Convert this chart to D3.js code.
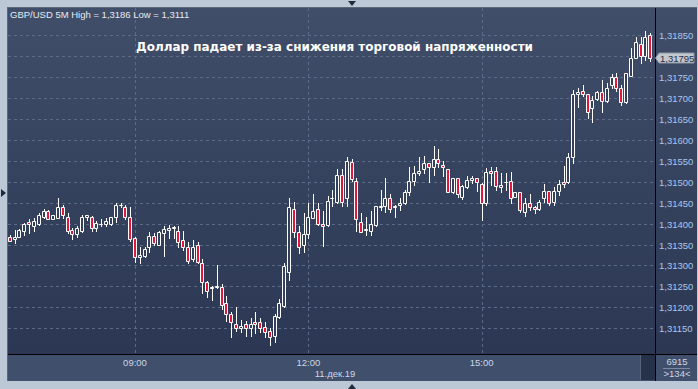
<!DOCTYPE html>
<html>
<head>
<meta charset="utf-8">
<script src="https://cdn.jsdelivr.net/npm/d3@7"></script>
<style>
  html, body { margin: 0; padding: 0; background: #bdc8d7; overflow: hidden; }
</style>
</head>
<body>
<div id="chart"></div>
<script>
// GBP/USD, 5 minute bars, 11 Dec 2019 from 06:50
const startTime = "2019-12-11 06:50";
const stepMinutes = 5;

const open = [
  1.31369, 1.31364, 1.31369, 1.31383, 1.31404, 1.31393, 1.31398, 1.31415, 1.31430, 1.31410,
  1.31414, 1.31439, 1.31415, 1.31385, 1.31374, 1.31383, 1.31415, 1.31415, 1.31389, 1.31398,
  1.31398, 1.31398, 1.31415, 1.31444, 1.31439, 1.31415, 1.31365, 1.31319, 1.31323, 1.31343,
  1.31370, 1.31349, 1.31378, 1.31385, 1.31390, 1.31383, 1.31361, 1.31343, 1.31315, 1.31349,
  1.31305, 1.31260, 1.31247, 1.31249, 1.31249, 1.31210, 1.31183, 1.31160, 1.31150, 1.31160,
  1.31150, 1.31164, 1.31164, 1.31154, 1.31144, 1.31132, 1.31178, 1.31204, 1.31284, 1.31434,
  1.31379, 1.31349, 1.31374, 1.31414, 1.31434, 1.31398, 1.31397, 1.31460, 1.31452, 1.31516,
  1.31460, 1.31548, 1.31502, 1.31404, 1.31385, 1.31383, 1.31397, 1.31439, 1.31443, 1.31460,
  1.31440, 1.31444, 1.31448, 1.31475, 1.31502, 1.31520, 1.31530, 1.31544, 1.31534, 1.31553,
  1.31540, 1.31530, 1.31475, 1.31508, 1.31464, 1.31488, 1.31504, 1.31508, 1.31494, 1.31448,
  1.31525, 1.31525, 1.31488, 1.31499, 1.31502, 1.31464, 1.31475, 1.31428, 1.31448, 1.31439,
  1.31434, 1.31460, 1.31478, 1.31452, 1.31478, 1.31499, 1.31499, 1.31558, 1.31709, 1.31717,
  1.31709, 1.31675, 1.31697, 1.31713, 1.31693, 1.31731, 1.31749, 1.31723, 1.31690, 1.31753,
  1.31795, 1.31829, 1.31800, 1.31850
];
const high = [
  1.31372, 1.31385, 1.31386, 1.31402, 1.31410, 1.31413, 1.31425, 1.31435, 1.31432, 1.31420,
  1.31462, 1.31444, 1.31425, 1.31389, 1.31393, 1.31420, 1.31420, 1.31418, 1.31407, 1.31410,
  1.31413, 1.31416, 1.31448, 1.31448, 1.31444, 1.31440, 1.31369, 1.31343, 1.31345, 1.31381,
  1.31377, 1.31382, 1.31393, 1.31397, 1.31394, 1.31394, 1.31383, 1.31357, 1.31361, 1.31357,
  1.31315, 1.31263, 1.31251, 1.31301, 1.31255, 1.31228, 1.31190, 1.31200, 1.31170, 1.31168,
  1.31174, 1.31188, 1.31174, 1.31166, 1.31150, 1.31184, 1.31220, 1.31305, 1.31460, 1.31452,
  1.31394, 1.31425, 1.31448, 1.31471, 1.31448, 1.31431, 1.31466, 1.31480, 1.31530, 1.31530,
  1.31558, 1.31553, 1.31508, 1.31425, 1.31415, 1.31431, 1.31443, 1.31480, 1.31508, 1.31471,
  1.31444, 1.31460, 1.31480, 1.31534, 1.31537, 1.31558, 1.31561, 1.31544, 1.31585, 1.31577,
  1.31549, 1.31530, 1.31508, 1.31509, 1.31492, 1.31514, 1.31514, 1.31508, 1.31496, 1.31532,
  1.31536, 1.31536, 1.31520, 1.31520, 1.31524, 1.31475, 1.31475, 1.31460, 1.31471, 1.31442,
  1.31456, 1.31494, 1.31478, 1.31487, 1.31504, 1.31538, 1.31569, 1.31719, 1.31723, 1.31731,
  1.31709, 1.31705, 1.31717, 1.31743, 1.31735, 1.31757, 1.31759, 1.31731, 1.31759, 1.31818,
  1.31846, 1.31846, 1.31860, 1.31854
];
const low = [
  1.31359, 1.31354, 1.31369, 1.31373, 1.31378, 1.31383, 1.31397, 1.31414, 1.31410, 1.31410,
  1.31414, 1.31414, 1.31378, 1.31364, 1.31369, 1.31381, 1.31409, 1.31383, 1.31383, 1.31393,
  1.31393, 1.31397, 1.31404, 1.31439, 1.31410, 1.31359, 1.31309, 1.31305, 1.31319, 1.31333,
  1.31349, 1.31349, 1.31323, 1.31365, 1.31365, 1.31345, 1.31337, 1.31305, 1.31311, 1.31305,
  1.31234, 1.31224, 1.31218, 1.31246, 1.31195, 1.31168, 1.31129, 1.31144, 1.31140, 1.31132,
  1.31132, 1.31138, 1.31140, 1.31129, 1.31110, 1.31118, 1.31174, 1.31200, 1.31265, 1.31369,
  1.31329, 1.31333, 1.31365, 1.31414, 1.31397, 1.31347, 1.31393, 1.31442, 1.31450, 1.31442,
  1.31442, 1.31502, 1.31382, 1.31379, 1.31373, 1.31373, 1.31393, 1.31432, 1.31428, 1.31428,
  1.31415, 1.31432, 1.31447, 1.31468, 1.31492, 1.31516, 1.31521, 1.31498, 1.31516, 1.31534,
  1.31514, 1.31475, 1.31472, 1.31464, 1.31459, 1.31484, 1.31496, 1.31478, 1.31409, 1.31444,
  1.31492, 1.31480, 1.31476, 1.31480, 1.31448, 1.31464, 1.31428, 1.31418, 1.31432, 1.31425,
  1.31432, 1.31452, 1.31444, 1.31444, 1.31468, 1.31488, 1.31496, 1.31544, 1.31679, 1.31705,
  1.31653, 1.31643, 1.31695, 1.31667, 1.31691, 1.31723, 1.31717, 1.31683, 1.31687, 1.31753,
  1.31795, 1.31783, 1.31790, 1.31789
];
const close = [
  1.31359, 1.31369, 1.31385, 1.31398, 1.31398, 1.31406, 1.31420, 1.31430, 1.31410, 1.31420,
  1.31439, 1.31420, 1.31383, 1.31374, 1.31389, 1.31416, 1.31420, 1.31389, 1.31401, 1.31400,
  1.31406, 1.31415, 1.31444, 1.31445, 1.31415, 1.31362, 1.31319, 1.31325, 1.31339, 1.31370,
  1.31354, 1.31381, 1.31386, 1.31390, 1.31391, 1.31355, 1.31343, 1.31311, 1.31343, 1.31309,
  1.31260, 1.31239, 1.31248, 1.31250, 1.31206, 1.31184, 1.31164, 1.31150, 1.31155, 1.31150,
  1.31160, 1.31160, 1.31150, 1.31140, 1.31129, 1.31179, 1.31210, 1.31299, 1.31439, 1.31379,
  1.31343, 1.31374, 1.31416, 1.31430, 1.31398, 1.31393, 1.31454, 1.31461, 1.31516, 1.31452,
  1.31549, 1.31506, 1.31410, 1.31379, 1.31386, 1.31398, 1.31443, 1.31443, 1.31460, 1.31434,
  1.31441, 1.31448, 1.31475, 1.31502, 1.31521, 1.31525, 1.31544, 1.31534, 1.31553, 1.31544,
  1.31534, 1.31475, 1.31508, 1.31470, 1.31490, 1.31504, 1.31508, 1.31498, 1.31448, 1.31524,
  1.31520, 1.31490, 1.31492, 1.31500, 1.31460, 1.31475, 1.31432, 1.31448, 1.31439, 1.31434,
  1.31452, 1.31478, 1.31448, 1.31478, 1.31494, 1.31494, 1.31558, 1.31709, 1.31713, 1.31709,
  1.31667, 1.31695, 1.31713, 1.31693, 1.31723, 1.31749, 1.31723, 1.31690, 1.31759, 1.31795,
  1.31834, 1.31800, 1.31845, 1.31795
];

const priceTicks = [1.3115, 1.3120, 1.3125, 1.3130, 1.3135, 1.3140, 1.3145, 1.3150,
                    1.3155, 1.3160, 1.3165, 1.3170, 1.3175, 1.3180, 1.3185];
const timeTicks = ["09:00", "12:00", "15:00"];
const lastPrice = 1.31795;
const titleText = "GBP/USD 5M High = 1,3186 Low = 1,3111";
const headline = "Доллар падает из-за снижения торговой напряженности";
const dateLabel = "11.дек.19";
const barInfo = ["6915", ">134<"];

// sizes
const W = 698, H = 389;
const panel = {left: 8, top: 8, right: 697, bottom: 381};
const plotRight = 655, plotBottom = 354;
const font = "'Liberation Sans', Arial, sans-serif";

const parse = d3.timeParse("%Y-%m-%d %H:%M");
const t0 = parse(startTime);
const times = open.map((d, i) => d3.timeMinute.offset(t0, i * stepMinutes));
const bars = open.map((d, i) => ({t: times[i], o: d, h: high[i], l: low[i], c: close[i]}));

const x = d3.scaleTime()
    .domain([t0, times[times.length - 1]])
    .range([9.8, 9.8 + (times.length - 1) * 4.815]);

const y = d3.scaleLinear()
    .domain([1.3115, 1.3185])
    .range([328.3, 35]);

const fmt = v => v.toFixed(5).replace(".", ",");
const px = v => Math.round(v) + 0.5;

const svg = d3.select("#chart")
  .append("svg")
    .attr("width", W)
    .attr("height", H)
    .style("display", "block");

const defs = svg.append("defs");
const grad = defs.append("linearGradient")
    .attr("id", "bg").attr("x1", 0).attr("y1", 0).attr("x2", 0).attr("y2", 1);
grad.append("stop").attr("offset", "0%").attr("stop-color", "#404e6a");
grad.append("stop").attr("offset", "100%").attr("stop-color", "#2b3753");

defs.append("clipPath").attr("id", "plotclip")
  .append("rect")
    .attr("x", panel.left).attr("y", panel.top)
    .attr("width", plotRight - panel.left).attr("height", plotBottom - panel.top);

// frame
svg.append("rect").attr("width", W).attr("height", H).attr("fill", "#bdc8d7");
svg.append("rect")
    .attr("x", panel.left - 1).attr("y", panel.top - 1)
    .attr("width", panel.right - panel.left + 1).attr("height", panel.bottom - panel.top + 1)
    .attr("fill", "#5d687b");
svg.append("rect")
    .attr("x", panel.left).attr("y", panel.top)
    .attr("width", panel.right - panel.left).attr("height", plotBottom - panel.top)
    .attr("fill", "url(#bg)");
svg.append("rect")
    .attr("x", panel.left).attr("y", plotBottom)
    .attr("width", panel.right - panel.left).attr("height", panel.bottom - plotBottom)
    .attr("fill", "#404f6b");
// little scroll block at bottom right of the time axis
svg.append("rect")
    .attr("x", 640).attr("y", plotBottom + 1).attr("width", 1).attr("height", 25)
    .attr("fill", "#56637a");
svg.append("rect")
    .attr("x", 641).attr("y", plotBottom + 1).attr("width", plotRight - 641).attr("height", 25)
    .attr("fill", "#26324a");

// grid
const grid = svg.append("g")
    .attr("stroke", "#5b6a86")
    .attr("stroke-dasharray", "3,3")
    .attr("stroke-width", 1);

grid.selectAll("line.h")
  .data(priceTicks)
  .join("line")
    .attr("class", "h")
    .attr("x1", panel.left).attr("x2", plotRight)
    .attr("y1", d => px(y(d))).attr("y2", d => px(y(d)));

const tickTimes = timeTicks.map(s => parse("2019-12-11 " + s));
grid.selectAll("line.v")
  .data(tickTimes)
  .join("line")
    .attr("class", "v")
    .attr("x1", d => px(x(d))).attr("x2", d => px(x(d)))
    .attr("y1", panel.top).attr("y2", plotBottom);

// candles
const candles = svg.append("g")
    .attr("clip-path", "url(#plotclip)")
  .selectAll("g")
  .data(bars)
  .join("g");

candles.append("line")
    .attr("x1", d => px(x(d.t)))
    .attr("x2", d => px(x(d.t)))
    .attr("y1", d => Math.round(y(d.h)))
    .attr("y2", d => Math.round(y(d.l)) + 1)
    .attr("stroke", "#ffffff");

candles.append("path")
    .attr("d", d => {
      const cx = px(x(d.t));
      const y0 = px(y(Math.max(d.o, d.c)));
      const y1 = px(y(Math.min(d.o, d.c)));
      return `M${cx - 2},${y0}H${cx + 1}V${y1}H${cx - 2}Z`;
    })
    .attr("fill", d => d.c < d.o ? "#e3163c" : "#34405c")
    .attr("stroke", "#ffffff")
    .attr("stroke-width", 1);

// separators
svg.append("line")
    .attr("x1", plotRight + 0.5).attr("x2", plotRight + 0.5)
    .attr("y1", panel.top).attr("y2", panel.bottom)
    .attr("stroke", "#000");
svg.append("line")
    .attr("x1", panel.left).attr("x2", panel.right)
    .attr("y1", plotBottom + 0.5).attr("y2", plotBottom + 0.5)
    .attr("stroke", "#000");

// price axis labels (the one hidden behind the current price marker is skipped)
svg.append("g")
  .selectAll("text")
  .data(priceTicks.filter(d => Math.abs(y(d) - y(lastPrice)) > 10))
  .join("text")
    .attr("x", 659)
    .attr("y", d => y(d) + 4)
    .attr("font-family", font)
    .attr("font-size", "9.5px")
    .attr("fill", "#a9c6ee")
    .text(fmt);

// current price marker
const lp = svg.append("g").attr("transform", `translate(0,${Math.round(y(lastPrice))})`);
lp.append("path")
    .attr("d", "M655.5,0 L659,-5 L694,-5 L694,5 L659,5 Z")
    .attr("fill", "#c3c7ce")
    .attr("stroke", "#8e96a4");
lp.append("text")
    .attr("x", 660).attr("y", 4)
    .attr("font-family", font)
    .attr("font-size", "9.5px")
    .attr("fill", "#25304a")
    .text(fmt(lastPrice));

// time axis labels
svg.append("g")
  .selectAll("text")
  .data(tickTimes)
  .join("text")
    .attr("x", d => x(d))
    .attr("y", 366)
    .attr("text-anchor", "middle")
    .attr("font-family", font)
    .attr("font-size", "9.5px")
    .attr("fill", "#cdd7e6")
    .text((d, i) => timeTicks[i]);

svg.append("text")
    .attr("x", 335).attr("y", 377)
    .attr("text-anchor", "middle")
    .attr("font-family", font)
    .attr("font-size", "9.5px")
    .attr("fill", "#cdd7e6")
    .text(dateLabel);

svg.append("text")
    .attr("x", 677).attr("y", 365)
    .attr("text-anchor", "middle")
    .attr("font-family", font)
    .attr("font-size", "9.5px")
    .attr("fill", "#cdd7e6")
    .text(barInfo[0]);
svg.append("line")
    .attr("x1", 663).attr("x2", 690)
    .attr("y1", 368.5).attr("y2", 368.5)
    .attr("stroke", "#7d8aa0");
svg.append("text")
    .attr("x", 677).attr("y", 377)
    .attr("text-anchor", "middle")
    .attr("font-family", font)
    .attr("font-size", "9.5px")
    .attr("fill", "#cdd7e6")
    .text(barInfo[1]);

// titles
svg.append("text")
    .attr("x", 10).attr("y", 18)
    .attr("font-family", font)
    .attr("font-size", "9.5px")
    .attr("fill", "#e6ebf3")
    .text(titleText);

svg.append("text")
    .attr("x", 136).attr("y", 51)
    .attr("font-family", "'DejaVu Sans', sans-serif")
    .attr("font-size", "13px")
    .attr("font-weight", "bold")
    .attr("fill", "#ffffff")
    .attr("textLength", 397)
    .attr("lengthAdjust", "spacingAndGlyphs")
    .text(headline);

// small scroll arrows on the frame
svg.append("path").attr("d", "M348,1 L356,1 L352,6 Z").attr("fill", "#1f2a3c");
svg.append("path").attr("d", "M348,389 L356,389 L352,384 Z").attr("fill", "#1f2a3c");
svg.append("path").attr("d", "M1,189 L1,197 L6,193 Z").attr("fill", "#1f2a3c");
</script>
</body>
</html>
